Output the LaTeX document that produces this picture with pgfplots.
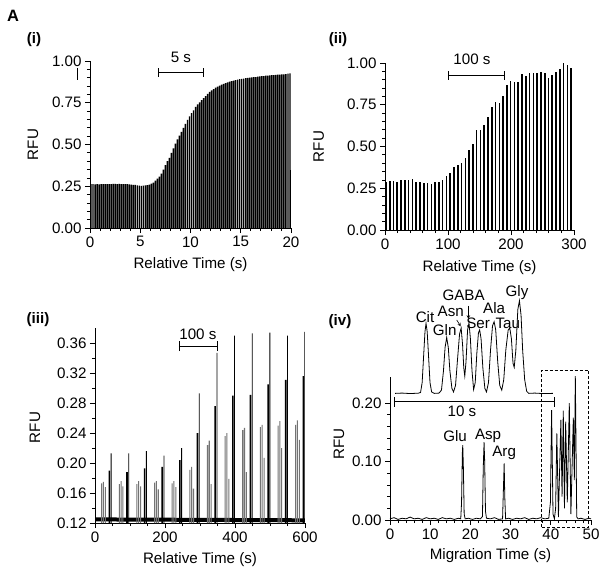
\documentclass[border=0pt]{standalone}
\usepackage{fontspec}
\setmainfont{Liberation Sans}
\usepackage{pgfplots}
\pgfplotsset{compat=1.18}
\newcommand\fs{\fontsize{15.2}{17}\selectfont}

\pgfplotsset{
  panel/.style={
    scale only axis, enlargelimits=false, clip mode=individual,
    axis x line*=bottom, axis y line*=left,
    axis line style={-, line width=0.8bp},
    tick align=outside, major tick length=5bp, minor tick length=3bp,
    every tick/.style={black, line width=0.8bp},
    /pgf/number format/assume math mode=true,
    tick label style={font=\fs}, label style={font=\fs},
    yticklabel style={/pgf/number format/.cd, fixed, fixed zerofill, precision=2},
    ylabel={RFU},
  },
  ylab/.style 2 args={ylabel style={at={(axis description cs:#1,#2)}, anchor=center}},
  xlab/.style 2 args={xlabel style={at={(axis description cs:#1,#2)}, anchor=center}},
  spike/.style={ybar, bar shift=0pt, bar width=#1, draw=none, mark=none},
}

\begin{document}
\begin{tikzpicture}
\useasboundingbox (0,0) rectangle (604bp,-573bp);

\node[font=\fontsize{16.5}{18}\selectfont\bfseries] at (13bp,-16bp) {A};
\node[font=\fs\bfseries] at (34bp,-40bp) {(i)};
\node[font=\fs\bfseries] at (338bp,-40bp) {(ii)};
\node[font=\fs\bfseries] at (38bp,-320bp) {(iii)};
\node[font=\fs\bfseries] at (340bp,-322bp) {(iv)};
\draw[line width=0.8bp] (77bp,-68bp) -- (77bp,-80bp);

% (i)
\begin{axis}[panel, at={(90bp,-228bp)}, anchor=south west,
  width=201bp, height=167bp, xmin=0, xmax=20, ymin=0, ymax=1,
  xtick={0,5,...,20}, minor x tick num=4,
  ytick={0,0.25,0.5,0.75,1}, minor y tick num=4,
  xlabel={Relative Time (s)}, ylab={-0.284}{0.5}, xlab={0.5}{-0.222}]
\addplot[spike=0.145, fill=black] coordinates {
(0.1,.262)(0.3,.262)(0.5,.261)(0.7,.262)(0.9,.261)(1.1,.262)(1.3,.263)(1.5,.262)(1.7,.263)(1.9,.262)
(2.1,.263)(2.3,.264)(2.5,.264)(2.7,.263)(2.9,.264)(3.1,.263)(3.3,.262)(3.5,.263)(3.7,.262)(3.9,.261)
(4.1,.260)(4.3,.259)(4.5,.258)(4.7,.256)(4.9,.254)(5.1,.253)(5.3,.254)(5.5,.255)(5.7,.257)(5.9,.260)
(6.1,.265)(6.3,.272)(6.5,.283)(6.7,.295)(6.9,.308)(7.1,.326)(7.3,.350)(7.5,.377)(7.7,.400)(7.9,.420)
(8.1,.450)(8.3,.477)(8.5,.505)(8.7,.530)(8.9,.553)(9.1,.576)(9.3,.600)(9.5,.623)(9.7,.648)(9.9,.668)
(10.1,.688)(10.3,.705)(10.5,.725)(10.7,.740)(10.9,.752)(11.1,.765)(11.3,.778)(11.5,.790)(11.7,.803)(11.9,.815)
(12.1,.824)(12.3,.832)(12.5,.840)(12.7,.847)(12.9,.853)(13.1,.858)(13.3,.863)(13.5,.868)(13.7,.872)(13.9,.876)
(14.1,.879)(14.3,.883)(14.5,.886)(14.7,.888)(14.9,.891)(15.1,.893)(15.3,.895)(15.5,.897)(15.7,.899)(15.9,.900)
(16.1,.902)(16.3,.903)(16.5,.904)(16.7,.906)(16.9,.908)(17.1,.909)(17.3,.910)(17.5,.912)(17.7,.913)(17.9,.914)
(18.1,.915)(18.3,.916)(18.5,.917)(18.7,.918)(18.9,.919)(19.1,.920)(19.3,.920)(19.5,.922)(19.7,.924)(19.9,.926)};
\addplot[black, line width=0.9bp, mark=none] coordinates {(19.97,0)(19.97,.350)};
\draw[line width=0.9bp] (axis cs:6.8,0.934) -- (axis cs:11.3,0.934);
\draw[line width=0.9bp] (axis cs:6.8,0.907) -- (axis cs:6.8,0.961);
\draw[line width=0.9bp] (axis cs:11.3,0.907) -- (axis cs:11.3,0.961);
\node[font=\fs] at (axis cs:9.05,1.02) {5 s};
\end{axis}

% (ii)
\begin{axis}[panel, at={(385bp,-230bp)}, anchor=south west,
  width=189bp, height=167bp, xmin=0, xmax=300, ymin=0, ymax=1,
  xtick={0,100,200,300}, minor x tick num=4,
  ytick={0,0.25,0.5,0.75,1}, minor y tick num=4,
  xlabel={Relative Time (s)}, ylab={-0.35}{0.5}, xlab={0.5}{-0.228}]
\addplot[ycomb, black, line width=1.6bp, mark=none] coordinates {
(1.5,.289)(7.5,.293)(13.5,.293)(19.5,.287)(25.5,.300)(31.5,.300)(37.5,.300)(43.5,.303)(49.5,.289)(55.5,.285)
(61.5,.279)(67.5,.279)(73.5,.275)(79.5,.285)(85.5,.285)(91.5,.300)(97.5,.323)(103.5,.343)(109.5,.375)(115.5,.389)
(121.5,.400)(127.5,.430)(133.5,.479)(139.5,.515)(145.5,.600)(151.5,.600)(157.5,.629)(163.5,.679)(169.5,.734)(175.5,.768)
(181.5,.758)(187.5,.802)(193.5,.868)(199.5,.894)(205.5,.888)(211.5,.888)(217.5,.934)(223.5,.922)(229.5,.942)(235.5,.942)
(241.5,.942)(247.5,.948)(253.5,.938)(259.5,.908)(265.5,.928)(271.5,.946)(277.5,.964)(283.5,.998)(289.5,.988)(295.5,.968)};
\draw[line width=0.9bp] (axis cs:100,0.928) -- (axis cs:189,0.928);
\draw[line width=0.9bp] (axis cs:100,0.901) -- (axis cs:100,0.955);
\draw[line width=0.9bp] (axis cs:189,0.901) -- (axis cs:189,0.955);
\node[font=\fs] at (axis cs:138,1.024) {100 s};
\end{axis}

% (iii)
\begin{axis}[panel, at={(95bp,-523bp)}, anchor=south west,
  width=210bp, height=195bp, xmin=0, xmax=600, ymin=0.12, ymax=0.38,
  xtick={0,200,400,600}, minor x tick num=3,
  ytick={0.12,0.16,...,0.37}, minor y tick num=1,
  xlabel={Relative Time (s)}, ylab={-0.286}{0.49}, xlab={0.5}{-0.19}]
\addplot[black, line width=4bp] coordinates {(0,.1248)(600,.1236)};
\addplot[spike=3.0, fill=black!55] coordinates {
(19,.173)(24,.175)(29.5,.168)
(69.4,.172)(74.4,.176)(79.9,.169)
(119.8,.172)(124.8,.176)(130.3,.169)
(170.2,.174)(175.2,.176)(180.7,.165)
(220.6,.173)(225.6,.176)(231.1,.168)
(271,.191)(276,.195)(281.5,.166)
(321.4,.224)(326.4,.230)(331.9,.172)
(371.8,.236)(376.8,.240)(382.3,.179)
(422.2,.244)(427.2,.247)(432.7,.188)
(472.6,.248)(477.6,.251)(483.1,.207)
(523,.250)(528,.256)(533.5,.220)
(573.4,.251)(578.4,.257)(583.9,.231)};
\addplot[spike=4.6, fill=black] coordinates {
(41,.190)(91.4,.188)(141.8,.193)(192.2,.195)(242.6,.204)(293,.240)
(343.4,.276)(393.8,.290)(444.2,.291)(494.6,.305)(545,.311)(595.4,.316)};
\addplot[spike=2.4, fill=black] coordinates {
(46,.213)(96.4,.213)(146.8,.216)(197.2,.210)(247.6,.220)(298,.293)
(348.4,.347)(398.8,.370)(449.2,.373)(499.6,.374)(550,.370)(599.5,.375)};
\draw[line width=0.9bp] (axis cs:240,0.356) -- (axis cs:349,0.356);
\draw[line width=0.9bp] (axis cs:240,0.3493) -- (axis cs:240,0.3627);
\draw[line width=0.9bp] (axis cs:349,0.3493) -- (axis cs:349,0.3627);
\node[font=\fs] at (axis cs:294,0.372) {100 s};
\end{axis}

% (iv)
\begin{axis}[panel, at={(390bp,-520bp)}, anchor=south west, clip=false,
  width=201bp, height=143.3bp, xmin=0, xmax=50, ymin=0, ymax=0.245,
  xtick={0,10,...,50}, minor x tick num=4,
  ytick={0,0.1,0.2}, minor y tick num=4,
  xlabel={Migration Time (s)}, ylab={-0.254}{0.53}, xlab={0.5}{-0.251}]
\addplot[black, line width=0.8bp, mark=none] coordinates {
(0,0.002)(1,0.004)(2,0.001)(3,0.003)(4,0.002)(5,0.005)(6,0.002)(7,0.003)(8,0.001)(9,0.004)
(10,0.002)(11,0.003)(12,0.001)(13,0.004)(14,0.002)(15,0.003)(16,0.001)(17,0.003)
(17.6,0.002)(17.8,0.03)(18.0,0.115)(18.1,0.128)(18.25,0.09)(18.45,0.01)(18.7,0.002)
(19.5,0.003)(20.5,0.001)(21.5,0.003)(22.5,0.002)
(23.0,0.006)(23.2,0.09)(23.4,0.133)(23.55,0.10)(23.75,0.015)(24,0.003)
(25,0.002)(26,0.004)(27,0.001)(28,0.002)
(28.2,0.05)(28.4,0.097)(28.55,0.04)(28.75,0.002)
(29.5,0.003)(30.5,0.001)(31.5,0.003)(32.5,0.002)(33.5,0.004)(34.5,0.001)(35.5,0.003)(36.5,0.002)(37.5,0.004)(38.5,0.002)(39.5,0.003)
(39.9,0.03)(40.2,0.188)(40.55,0.01)(40.9,0.002)(41.2,0.02)(41.5,0.148)(41.9,0.005)
(42.5,0.171)(42.8,0.04)(43.1,0.187)(43.4,0.02)(43.7,0.168)(44.1,0.03)(44.6,0.200)(45.0,0.01)
(45.6,0.175)(45.85,0.068)(46.1,0.246)(46.45,0.005)(46.8,0.002)
(47.5,0.003)(48.5,0.001)(49.5,0.003)(50,0.002)};
\addplot[black, line width=0.8bp, mark=none] coordinates {
(1.3,0.2165)(3,0.217)(5,0.2162)(7,0.2168)(7.6,0.218)(8.0,0.235)(8.4,0.285)(8.7,0.322)(8.96,0.336)
(9.25,0.322)(9.55,0.285)(9.95,0.235)(10.35,0.219)(11,0.2165)(12.2,0.217)(12.8,0.222)(13.3,0.255)
(13.7,0.295)(14.1,0.312)(14.5,0.295)(14.9,0.255)(15.4,0.225)(15.8,0.219)(16.3,0.23)(16.8,0.275)
(17.3,0.318)(17.7,0.328)(18.05,0.3)(18.35,0.26)(18.6,0.246)(18.9,0.27)(19.3,0.325)(19.65,0.337)
(20.0,0.31)(20.4,0.255)(20.8,0.223)(21.2,0.235)(21.6,0.285)(22.0,0.32)(22.3,0.325)(22.65,0.31)
(23.1,0.26)(23.6,0.225)(24.0,0.219)(24.5,0.235)(25.0,0.29)(25.5,0.332)(25.9,0.339)(26.3,0.325)
(26.8,0.27)(27.3,0.23)(27.8,0.222)(28.3,0.24)(28.8,0.29)(29.4,0.325)(29.8,0.328)(30.2,0.31)
(30.6,0.268)(30.9,0.261)(31.3,0.29)(31.8,0.36)(32.2,0.375)(32.6,0.35)(33.0,0.29)(33.5,0.24)
(34.0,0.22)(34.5,0.2165)(36,0.217)(38,0.2162)(40.5,0.2165)};
\draw[line width=0.9bp] (axis cs:1.0,0.202) -- (axis cs:40.8,0.202);
\draw[line width=0.9bp] (axis cs:1.0,0.1935) -- (axis cs:1.0,0.2105);
\draw[line width=0.9bp] (axis cs:40.8,0.1935) -- (axis cs:40.8,0.2105);
\node[font=\fs] at (axis cs:17.9,0.186) {10 s};
\draw[dashed, line width=0.7bp, dash pattern=on 3bp off 2bp] (axis cs:37.7,-0.0125) rectangle (axis cs:49.4,0.256);
\node[font=\fs] at (axis cs:8.71,0.347) {Cit};
\node[font=\fs] at (axis cs:13.6,0.325) {Gln};
\node[font=\fs] at (axis cs:15.1,0.356) {Asn};
\node[font=\fs] at (axis cs:18.3,0.385) {GABA};
\node[font=\fs] at (axis cs:21.9,0.337) {Ser};
\node[font=\fs] at (axis cs:25.9,0.362) {Ala};
\node[font=\fs] at (axis cs:29.3,0.337) {Tau};
\node[font=\fs] at (axis cs:31.6,0.388) {Gly};
\node[font=\fs] at (axis cs:16.2,0.144) {Glu};
\node[font=\fs] at (axis cs:24.4,0.144) {Asp};
\node[font=\fs] at (axis cs:28.4,0.115) {Arg};
\draw[-stealth, line width=0.6bp] (axis cs:19.5,0.366) -- (axis cs:19.5,0.344);
\draw[-stealth, line width=0.6bp] (axis cs:16.6,0.342) -- (axis cs:17.6,0.331);
\end{axis}
\end{tikzpicture}
\end{document}
